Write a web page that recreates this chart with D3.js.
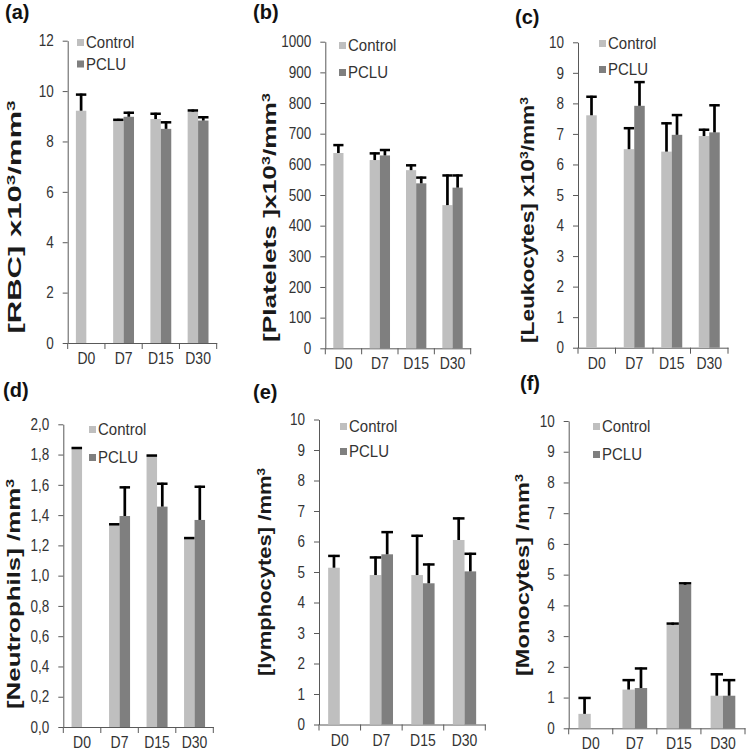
<!DOCTYPE html>
<html>
<head>
<meta charset="utf-8">
<script src="https://cdn.jsdelivr.net/npm/d3@7"></script>
<style>
  body { margin: 0; background: #fff; }
  text { font-family: Arial, "Liberation Sans", sans-serif; }
</style>
</head>
<body>
<svg id="chart" width="748" height="753"></svg>
<script>
// categories (days)
var categories = ["D0", "D7", "D15", "D30"];
var seriesNames = ["Control", "PCLU"];

// (a) RBC x10^3/mm^3
var rbcControl = [9.22, 8.82, 8.89, 9.18];
var rbcControlErr = [0.68, 0.08, 0.25, 0.09];
var rbcPclu = [null, 8.98, 8.50, 8.83];
var rbcPcluErr = [null, 0.20, 0.30, 0.17];

// (b) Platelets x10^3/mm^3
var pltControl = [637, 614, 581, 467];
var pltControlErr = [29, 25, 19, 100];
var pltPclu = [null, 629, 538, 524];
var pltPcluErr = [null, 21, 22, 43];

// (c) Leukocytes x10^3/mm^3
var leuControl = [7.61, 6.50, 6.42, 6.93];
var leuControlErr = [0.64, 0.72, 0.96, 0.24];
var leuPclu = [null, 7.92, 6.97, 7.05];
var leuPcluErr = [null, 0.81, 0.68, 0.92];

// (d) Neutrophils /mm^3
var neuControl = [1.85, 1.346, 1.80, 1.255];
var neuControlErr = [0, 0, 0, 0];
var neuPclu = [null, 1.394, 1.456, 1.368];
var neuPcluErr = [null, 0.196, 0.158, 0.226];

// (e) lymphocytes /mm^3
var lymControl = [5.14, 4.90, 4.90, 6.05];
var lymControlErr = [0.42, 0.61, 1.32, 0.74];
var lymPclu = [null, 5.58, 4.63, 5.02];
var lymPcluErr = [null, 0.76, 0.65, 0.61];

// (f) Monocytes /mm^3
var monControl = [0.47, 1.26, 3.36, 1.06];
var monControlErr = [0.55, 0.34, 0.08, 0.73];
var monPclu = [null, 1.31, 4.67, 1.06];
var monPcluErr = [null, 0.67, 0.08, 0.54];

// y tick values
var ticksA = [0, 2, 4, 6, 8, 10, 12];
var ticksB = [0, 100, 200, 300, 400, 500, 600, 700, 800, 900, 1000];
var ticksTen = [0, 1, 2, 3, 4, 5, 6, 7, 8, 9, 10];
var ticksD = [0, 0.2, 0.4, 0.6, 0.8, 1.0, 1.2, 1.4, 1.6, 1.8, 2.0];

var colors = ["#bfbfbf", "#7f7f7f"];
var axisColor = "#595959";
var textColor = "#333";
var stretch = 1.2; // source figure text is a bit taller than wide

var commaFmt = function(d) { return d3.format(".1f")(d).replace(".", ","); };

var panels = [
  { tag: "(a)", tagX: 5, tagY: 19,
    title: [["[RBC] x10"], ["3", 1], ["/mm"], ["3", 1]], titleX: 21, titleY: 217, titleLen: 233,
    left: 67.7, right: 216.7, top: 40.7, bottom: 343, max: 12, ticks: ticksA, fmt: d3.format("d"),
    legX: 77, legY: 48, legGap: 21.5,
    vals: [rbcControl, rbcPclu], errs: [rbcControlErr, rbcPcluErr] },
  { tag: "(b)", tagX: 253, tagY: 19,
    title: [["[Platelets ]x10"], ["3", 1], ["/mm"], ["3", 1]], titleX: 276, titleY: 217.5, titleLen: 249,
    left: 325.3, right: 470.7, top: 41.7, bottom: 348.3, max: 1000, ticks: ticksB, fmt: d3.format("d"),
    legX: 339, legY: 51, legGap: 27,
    vals: [pltControl, pltPclu], errs: [pltControlErr, pltPcluErr] },
  { tag: "(c)", tagX: 515, tagY: 24,
    title: [["[Leukocytes] x10"], ["3", 1], ["/mm"], ["3", 1]], titleX: 534, titleY: 220, titleLen: 246,
    left: 578, right: 728, top: 42.3, bottom: 347.7, max: 10, ticks: ticksTen, fmt: d3.format("d"),
    legX: 599, legY: 49, legGap: 26,
    vals: [leuControl, leuPclu], errs: [leuControlErr, leuPcluErr] },
  { tag: "(d)", tagX: 3, tagY: 397,
    title: [["[Neutrophils] /mm"], ["3", 1]], titleX: 20, titleY: 594, titleLen: 230,
    left: 63.3, right: 213.3, top: 424.3, bottom: 727, max: 2, ticks: ticksD, fmt: commaFmt,
    legX: 89, legY: 435, legGap: 28,
    vals: [neuControl, neuPclu], errs: [neuControlErr, neuPcluErr] },
  { tag: "(e)", tagX: 253, tagY: 399,
    title: [["[lymphocytes] /mm"], ["3", 1]], titleX: 271, titleY: 572, titleLen: 208,
    left: 319, right: 485.3, top: 419.5, bottom: 724.5, max: 10, ticks: ticksTen, fmt: d3.format("d"),
    legX: 340, legY: 432, legGap: 25,
    vals: [lymControl, lymPclu], errs: [lymControlErr, lymPcluErr] },
  { tag: "(f)", tagX: 520, tagY: 390,
    title: [["[Monocytes] /mm"], ["3", 1]], titleX: 529, titleY: 575, titleLen: 202,
    left: 568.7, right: 745, top: 421, bottom: 728.3, max: 10, ticks: ticksTen, fmt: d3.format("d"),
    legX: 593, legY: 432, legGap: 28,
    vals: [monControl, monPclu], errs: [monControlErr, monPcluErr] }
];

var svg = d3.select("#chart");

panels.forEach(function(p) {
  var g = svg.append("g");
  var x = d3.scaleBand().domain(categories).range([p.left, p.right]);
  var y = d3.scaleLinear().domain([0, p.max]).range([p.bottom, p.top]);
  var bw = x.bandwidth() * 0.28;

  // panel tag
  g.append("text").attr("x", p.tagX).attr("y", p.tagY)
    .attr("font-size", 20).attr("font-weight", "bold").attr("fill", "#111")
    .text(p.tag);

  // y axis title (stretched along its length like the source figure)
  var t = g.append("text")
    .attr("transform", "translate(" + p.titleX + "," + p.titleY + ") rotate(-90)")
    .attr("text-anchor", "middle").attr("font-size", 18).attr("font-weight", "bold")
    .attr("fill", "#1a1a1a")
    .attr("textLength", p.titleLen).attr("lengthAdjust", "spacingAndGlyphs");
  p.title.forEach(function(part) {
    var ts = t.append("tspan").text(part[0]);
    if (part[1]) ts.attr("font-size", 11).attr("baseline-shift", "super");
  });

  // y axis
  var ya = g.append("g").attr("transform", "translate(" + p.left + ",0)")
    .call(d3.axisLeft(y).tickValues(p.ticks).tickFormat(p.fmt)
      .tickSize(5).tickSizeOuter(0).tickPadding(9));
  ya.select(".domain").attr("stroke", axisColor);
  ya.selectAll(".tick line").attr("stroke", axisColor);
  ya.selectAll(".tick text").attr("font-size", 13.5).attr("fill", textColor)
    .attr("font-family", "Arial, 'Liberation Sans', sans-serif")
    .attr("transform", "scale(1," + stretch + ")");

  // x axis: labels at band centres, ticks at band edges
  var xa = g.append("g").attr("transform", "translate(0," + p.bottom + ")")
    .call(d3.axisBottom(x).tickSize(0).tickSizeOuter(0).tickPadding(7.6));
  xa.select(".domain").attr("stroke", axisColor);
  xa.selectAll(".tick text").attr("font-size", 14).attr("fill", textColor)
    .attr("font-family", "Arial, 'Liberation Sans', sans-serif")
    .attr("transform", "scale(1," + stretch + ")");
  var edges = categories.map(function(c) { return x(c); }).concat([p.right]);
  g.selectAll(".xedge").data(edges).enter().append("line")
    .attr("x1", function(d) { return d; }).attr("x2", function(d) { return d; })
    .attr("y1", p.bottom).attr("y2", p.bottom + 6)
    .attr("stroke", axisColor);

  // bars + error bars
  seriesNames.forEach(function(name, si) {
    var data = categories.map(function(c, i) {
      return { c: c, v: p.vals[si][i], e: p.errs[si][i] };
    }).filter(function(d) { return d.v != null; });
    var bx = function(d) { return x(d.c) + x.bandwidth() / 2 - bw + si * bw; };

    g.selectAll(".bar" + si).data(data).enter().append("rect")
      .attr("x", bx).attr("width", bw)
      .attr("y", function(d) { return y(d.v); })
      .attr("height", function(d) { return p.bottom - y(d.v); })
      .attr("fill", colors[si]);

    g.selectAll(".err" + si).data(data).enter().append("line")
      .attr("x1", function(d) { return bx(d) + bw / 2; })
      .attr("x2", function(d) { return bx(d) + bw / 2; })
      .attr("y1", function(d) { return y(d.v); })
      .attr("y2", function(d) { return y(d.v + d.e); })
      .attr("stroke", "#000").attr("stroke-width", 2.7);

    g.selectAll(".cap" + si).data(data).enter().append("line")
      .attr("x1", function(d) { return bx(d); })
      .attr("x2", function(d) { return bx(d) + bw; })
      .attr("y1", function(d) { return y(d.v + d.e) + 1; })
      .attr("y2", function(d) { return y(d.v + d.e) + 1; })
      .attr("stroke", "#000").attr("stroke-width", 2.5);
  });

  // legend
  seriesNames.forEach(function(name, si) {
    var ly = p.legY + si * p.legGap;
    g.append("rect").attr("x", p.legX).attr("y", ly - 9).attr("width", 7).attr("height", 7)
      .attr("fill", colors[si]);
    g.append("text").attr("transform", "translate(" + (p.legX + 9) + "," + ly + ") scale(1,1.1)")
      .attr("font-size", 15).attr("fill", textColor).text(name);
  });
});
</script>
</body>
</html>
